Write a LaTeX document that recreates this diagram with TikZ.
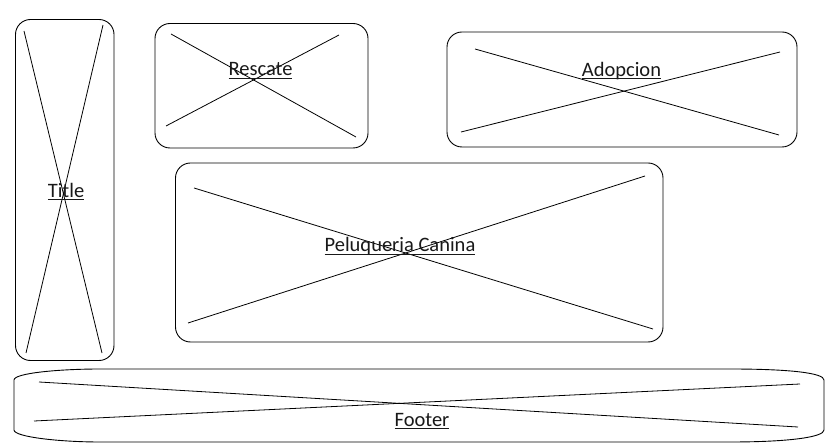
\documentclass[tikz,border=0pt]{standalone}
\usepackage{fontspec}
\setmainfont{Carlito}
\newcommand\myul[1]{\setbox0\hbox{#1}\rlap{\rule[-2.6bp]{\wd0}{0.9bp}}\box0}
\begin{document}
\begin{tikzpicture}[x=1bp,y=-1bp,
  wire/.style={draw=black,line width=0.9bp,rounded corners=15bp,inner sep=0pt},
  xline/.style={draw=black,line width=0.8bp},
  lbl/.style={anchor=base,inner sep=0pt,font=\fontsize{20.5bp}{24bp}\selectfont,text=black!90}]
\useasboundingbox (0,0) rectangle (838,448);
% boxes
\node[wire,minimum width=98.5bp,minimum height=341bp] (title) at (64.75,190) {};
\node[wire,minimum width=213bp,minimum height=124.5bp] (rescate) at (261.5,85.75) {};
\node[wire,minimum width=350bp,minimum height=115bp] (adopcion) at (622,89.5) {};
\node[wire,minimum width=487.5bp,minimum height=179bp] (pelu) at (419.25,252.5) {};
% footer
\draw[line width=0.9bp] (14,380) -- (14,430)
  .. controls (14,437) and (60,442) .. (100,442) -- (730,442)
  .. controls (790,442) and (824,437) .. (824,430) -- (824,380)
  .. controls (824,373) and (790,369) .. (730,369) -- (100,369)
  .. controls (60,369) and (14,373) .. (14,380);
% crosses
\draw[xline] (24,31) -- (102,353);
\draw[xline] (103,25) -- (26,353);
\draw[xline] (171,34) -- (356,137);
\draw[xline] (339,35) -- (166,126);
\draw[xline] (475,49) -- (779,135);
\draw[xline] (780,52) -- (461,132);
\draw[xline] (194,188) -- (653,329);
\draw[xline] (645,176) -- (188,323);
\draw[xline] (39,382) -- (798,427);
\draw[xline] (34,421) -- (800,384);
% labels
\node[lbl] (titlelbl) at (66,197.5) {\myul{Title}};
\node[lbl] (rescatelbl) at (260.5,76) {\myul{Rescate}};
\node[lbl] (adopcionlbl) at (621.5,76.5) {\myul{Adopcion}};
\node[lbl] (pelulbl) at (400,252) {\myul{Peluqueria Canina}};
\node[lbl] (footerlbl) at (422,426.5) {\myul{Footer}};
\end{tikzpicture}
\end{document}
